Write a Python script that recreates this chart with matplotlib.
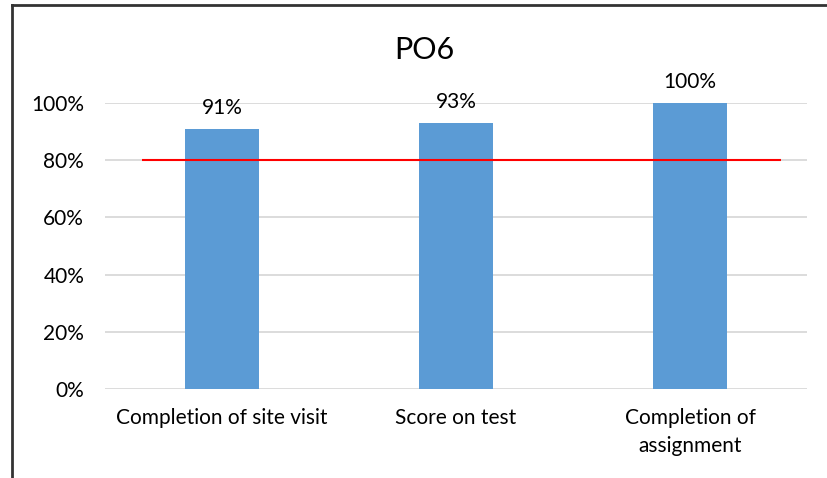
import matplotlib
matplotlib.use('Agg')
import matplotlib.pyplot as plt
from matplotlib.lines import Line2D
from matplotlib.ticker import PercentFormatter

categories = ["Completion of site visit", "Score on test", "Completion of\nassignment"]
values = [0.91, 0.93, 1.00]
target = 0.80
yticks = [0, 0.2, 0.4, 0.6, 0.8, 1.0]

plt.rcParams['font.family'] = ['Lato', 'DejaVu Sans']

fig = plt.figure(figsize=(8.28, 4.78), dpi=100)
ax = fig.add_axes([0.1268, 0.1862, 0.8478, 0.5983])

x = list(range(len(categories)))
bars = ax.bar(x, values, width=0.316, color="#5B9BD5", zorder=3)

# target line (80%)
ax.hlines(target, -0.342, 2.389, color="#FF0000", lw=1.5, zorder=4)

for b, v in zip(bars, values):
    ax.annotate(f"{v:.0%}", (b.get_x() + b.get_width() / 2, v),
                xytext=(0, 8), textcoords="offset points",
                ha="center", va="bottom", fontsize=15, color="#000000")

ax.set_xlim(-0.5, 2.5)
ax.set_ylim(0, 1)
ax.set_yticks(yticks)
ax.yaxis.set_major_formatter(PercentFormatter(1.0, decimals=0))
ax.set_xticks(x)
ax.set_xticklabels(categories, linespacing=1.45)
ax.grid(axis="y", color="#D9D9D9", lw=1.3, zorder=0)
ax.set_axisbelow(True)
for s in ax.spines.values():
    s.set_visible(False)
ax.tick_params(axis="both", length=0, labelsize=15, colors="#000000")
ax.tick_params(axis="y", pad=15)
ax.tick_params(axis="x", pad=14)

fig.text(0.513, 0.895, "PO6", ha="center", va="center", fontsize=22)

# chart border (left and top edges visible)
fig.add_artist(Line2D([12/828, 12/828], [0, 1 - 5/478], transform=fig.transFigure,
                      color="#333333", lw=2))
fig.add_artist(Line2D([12/828, 1], [1 - 5/478, 1 - 5/478], transform=fig.transFigure,
                      color="#333333", lw=2))

fig.savefig("out.png", dpi=100)
